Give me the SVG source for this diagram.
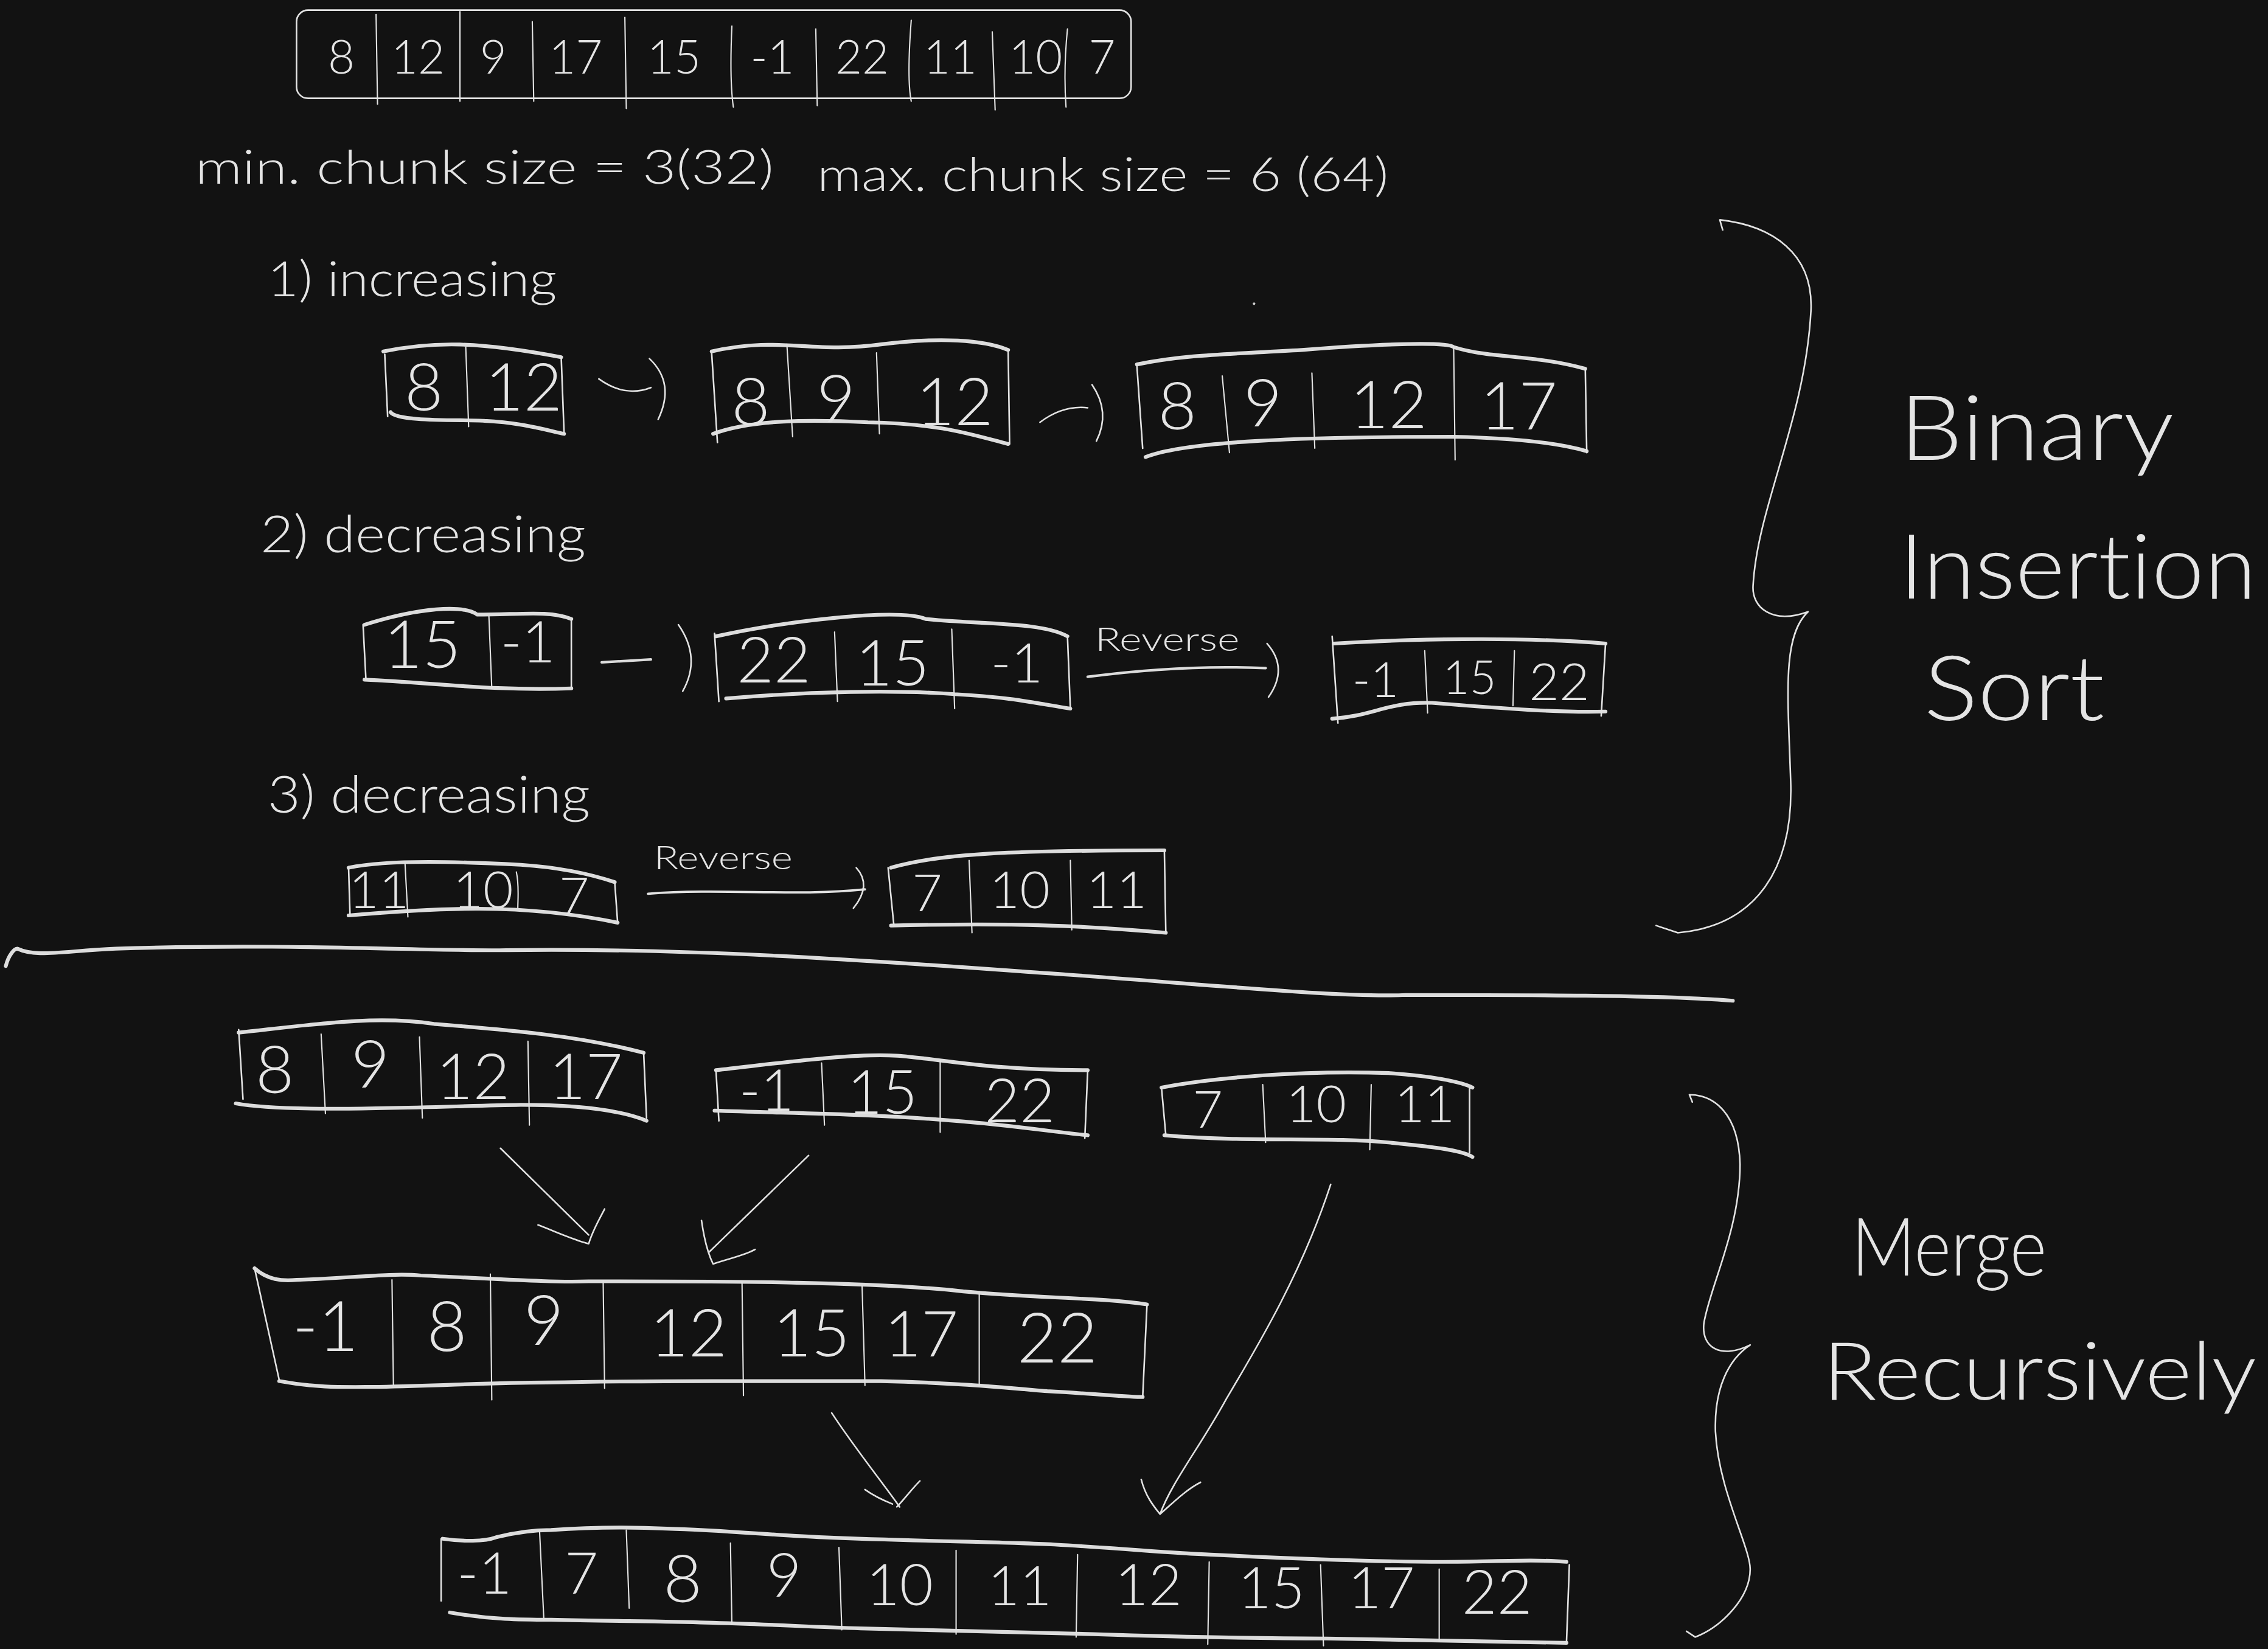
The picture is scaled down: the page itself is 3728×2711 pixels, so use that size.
<svg xmlns="http://www.w3.org/2000/svg" width="3728" height="2711" viewBox="0 0 3728 2711">
<style>
.ln{fill:none;stroke:#e2e2e2;stroke-width:1.1;stroke-linecap:round;stroke-linejoin:round}
.tk{fill:none;stroke:#dcdcdc;stroke-width:2.6;stroke-linecap:round;stroke-linejoin:round}
.dv{fill:none;stroke:#e2e2e2;stroke-width:0.9;stroke-linecap:round}
.t{font-family:"Lato","Liberation Sans",sans-serif;font-weight:300;fill:#e4e4e4;font-variant-ligatures:none}
.n{font-family:"Lato","Liberation Sans",sans-serif;font-weight:300;fill:#e4e4e4;text-anchor:middle}
</style>
<rect x="0" y="0" width="3728" height="2711" fill="#121212"/>
<g transform="scale(2.37755)">

<!-- top input array -->
<g id="input-array">
<rect class="ln" x="205" y="7" width="577" height="61" rx="8"/>
<path class="dv" d="M260,10 L261,72 M318,8 L318,70 M368,15 L369,70 M432,12 L433,75 M506,18 C505,40 505,60 507,74 M564,20 L565,73 M630,14 C628,40 628,60 630,70 M686,22 L688,76 M738,20 C736,40 736,60 737,74"/>
<text class="n" font-size="32" x="236" y="51">8</text>
<text class="n" font-size="32" x="289" y="51">12</text>
<text class="n" font-size="32" x="341" y="51">9</text>
<text class="n" font-size="32" x="398" y="51">17</text>
<text class="n" font-size="32" x="466" y="51">15</text>
<text class="n" font-size="32" x="534" y="51">-1</text>
<text class="n" font-size="32" x="596" y="51">22</text>
<text class="n" font-size="32" x="657" y="51">11</text>
<text class="n" font-size="32" x="716" y="51">10</text>
<text class="n" font-size="32" x="762" y="51">7</text>
</g>

<g id="chunk-size">
<text class="t" font-size="32" x="135" y="127" textLength="400" lengthAdjust="spacingAndGlyphs">min. chunk size = 3(32)</text>
<text class="t" font-size="32" x="565" y="132" textLength="395" lengthAdjust="spacingAndGlyphs">max. chunk size = 6 (64)</text>
</g>
<circle cx="867" cy="210" r="0.9" fill="#ccc"/>

<!-- case 1 -->
<text id="label-increasing" class="t" font-size="34" x="185" y="205" textLength="200" lengthAdjust="spacingAndGlyphs">1) increasing</text>
<g id="inc-a">
<path class="tk" d="M265,243 C300,236 330,236 388,247"/>
<path class="tk" d="M270,285 C275,292 320,290 335,291 C360,292 380,298 390,300"/>
<path class="ln" d="M266,245 L268,288 M388,247 L390,300"/>
<path class="dv" d="M322,240 L324,295"/>
<text class="n" font-size="46" x="293" y="284">8</text>
<text class="n" font-size="46" x="362" y="284">12</text>
</g>
<g id="inc-b">
<path class="tk" d="M492,243 C540,232 560,245 610,238 C650,233 680,235 697,242"/>
<path class="tk" d="M493,300 C520,290 560,290 600,292 C650,293 670,300 697,307"/>
<path class="ln" d="M492,244 L496,306 M697,242 L698,307"/>
<path class="dv" d="M544,238 L548,302 M606,244 L608,300"/>
<text class="n" font-size="46" x="519" y="294">8</text>
<text class="n" font-size="46" x="578" y="292">9</text>
<text class="n" font-size="46" x="660" y="294">12</text>
</g>
<g id="inc-c">
<path class="tk" d="M786,252 C820,245 850,245 900,242 C950,238 1000,236 1005,240 C1030,248 1060,245 1096,255"/>
<path class="tk" d="M792,316 C820,305 900,302 1005,302 C1050,303 1080,307 1097,312"/>
<path class="ln" d="M786,253 L790,310 M1096,255 L1097,313"/>
<path class="dv" d="M845,260 L850,313 M907,258 L909,310 M1005,240 L1006,318"/>
<text class="n" font-size="46" x="814" y="297">8</text>
<text class="n" font-size="46" x="873" y="295">9</text>
<text class="n" font-size="46" x="960" y="296">12</text>
<text class="n" font-size="46" x="1050" y="297">17</text>
</g>

<!-- case 2 -->
<text id="label-decreasing-2" class="t" font-size="36" x="180" y="382" textLength="225" lengthAdjust="spacingAndGlyphs">2) decreasing</text>
<g id="dec-a">
<path class="tk" d="M252,432 C290,420 320,418 330,425 C360,425 380,422 395,428"/>
<path class="tk" d="M252,470 C300,472 340,478 395,476"/>
<path class="ln" d="M251,432 L253,470 M395,428 L395,475"/>
<path class="dv" d="M338,426 L340,476"/>
<text class="n" font-size="46" x="292" y="462">15</text>
<text class="n" font-size="40" x="365" y="458">-1</text>
</g>
<g id="dec-b">
<path class="tk" d="M495,440 C540,430 620,420 640,428 C680,432 720,430 738,440"/>
<path class="tk" d="M502,483 C560,478 620,477 660,480 C700,482 720,487 740,490"/>
<path class="ln" d="M494,438 L497,485 M738,440 L740,490"/>
<path class="dv" d="M577,437 L579,485 M658,435 L660,490"/>
<text class="n" font-size="44" x="535" y="472">22</text>
<text class="n" font-size="44" x="617" y="474">15</text>
<text class="n" font-size="38" x="703" y="472">-1</text>
</g>
<g id="dec-c">
<path class="tk" d="M922,445 C970,442 1050,440 1110,445"/>
<path class="tk" d="M921,497 C950,495 960,485 990,486 C1040,490 1080,493 1110,492"/>
<path class="ln" d="M921,440 L925,500 M1110,445 L1107,495"/>
<path class="dv" d="M985,450 L987,493 M1047,450 L1046,488"/>
<text class="n" font-size="34" x="951" y="482">-1</text>
<text class="n" font-size="32" x="1016" y="480">15</text>
<text class="n" font-size="36" x="1078" y="484">22</text>
</g>

<!-- case 3 -->
<text id="label-decreasing-3" class="t" font-size="36" x="185" y="562" textLength="223" lengthAdjust="spacingAndGlyphs">3) decreasing</text>
<g id="dec3-a">
<path class="tk" d="M241,600 C270,594 320,596 360,598 C390,600 410,605 425,610"/>
<path class="tk" d="M241,633 C300,628 360,624 427,638"/>
<path class="ln" d="M241,600 L242,633 M425,610 L427,638"/>
<path class="dv" d="M280,597 L282,634 M357,603 C359,612 358,622 358,628"/>
<text class="n" font-size="36" x="262" y="628">11</text>
<text class="n" font-size="36" x="334" y="628">10</text>
<text class="n" font-size="36" x="397" y="632">7</text>
</g>
<g id="dec3-b">
<path class="tk" d="M616,600 C650,590 700,588 805,588"/>
<path class="tk" d="M616,640 C700,638 750,640 806,645"/>
<path class="ln" d="M614,600 L618,640 M805,588 L806,645"/>
<path class="dv" d="M670,595 L672,645 M740,595 L741,643"/>
<text class="n" font-size="36" x="641" y="630">7</text>
<text class="n" font-size="36" x="705" y="628">10</text>
<text class="n" font-size="36" x="772" y="628">11</text>
</g>

<!-- brace 1 and label -->
<g id="brace-binary">
<path class="ln" d="M1191,159 L1189,152 C1225,156 1254,175 1252,215 C1248,290 1215,350 1212,405 C1211,420 1225,432 1250,423 C1232,440 1236,480 1238,540 C1240,600 1215,640 1160,645 L1145,640"/>
</g>
<g id="label-binary">
<text class="t" font-size="62" x="1313" y="318" textLength="190" lengthAdjust="spacingAndGlyphs">Binary</text>
<text class="t" font-size="62" x="1313" y="414" textLength="247" lengthAdjust="spacingAndGlyphs">Insertion</text>
<text class="t" font-size="62" x="1330" y="498" textLength="125" lengthAdjust="spacingAndGlyphs">Sort</text>
</g>

<!-- separator -->
<path id="separator" class="tk" d="M4,668 C6,660 10,656 12,656 C25,662 40,658 80,656 C200,652 300,658 350,657 C500,655 650,668 739,674 C850,682 930,690 972,688 C1050,688 1150,688 1198,692"/>

<!-- merge section -->
<g id="run-1">
<path class="tk" d="M165,714 C220,708 260,702 300,708 C350,712 400,716 445,728"/>
<path class="tk" d="M163,763 C200,770 300,765 360,764 C400,764 430,768 447,775"/>
<path class="ln" d="M165,712 L168,760 M445,728 L447,773"/>
<path class="dv" d="M222,715 L225,770 M290,717 L292,773 M365,720 L366,778"/>
<text class="n" font-size="46" x="190" y="756">8</text>
<text class="n" font-size="46" x="256" y="752">9</text>
<text class="n" font-size="44" x="327" y="760">12</text>
<text class="n" font-size="44" x="405" y="760">17</text>
</g>
<g id="run-2">
<path class="tk" d="M495,740 C540,735 590,728 620,730 C650,732 680,740 752,740"/>
<path class="tk" d="M494,768 C550,770 600,770 660,775 C700,778 730,783 752,785"/>
<path class="ln" d="M495,740 L497,775 M752,740 L750,787"/>
<path class="dv" d="M568,735 L570,778 M650,733 L650,783"/>
<text class="n" font-size="40" x="530" y="768">-1</text>
<text class="n" font-size="42" x="610" y="770">15</text>
<text class="n" font-size="42" x="705" y="776">22</text>
</g>
<g id="run-3">
<path class="tk" d="M803,752 C840,745 900,740 960,742 C990,744 1010,748 1018,752"/>
<path class="tk" d="M805,785 C860,790 920,786 960,790 C990,793 1010,795 1018,800"/>
<path class="ln" d="M803,752 L806,785 M1016,752 L1016,797"/>
<path class="dv" d="M873,750 L875,790 M948,750 L947,795"/>
<text class="n" font-size="36" x="835" y="780">7</text>
<text class="n" font-size="36" x="910" y="776">10</text>
<text class="n" font-size="36" x="985" y="776">11</text>
</g>
<g id="merged-7">
<path class="tk" d="M176,877 C185,885 195,886 205,885 C240,884 270,880 291,882 C340,884 380,887 407,886 C470,886 520,886 551,887 C600,888 640,890 666,893 C720,898 760,897 793,902"/>
<path class="tk" d="M193,955 C220,960 240,959 262,959 C310,958 340,956 378,956 C430,955 460,955 493,955 C540,955 580,955 609,955 C660,956 700,960 724,962 C760,964 780,966 790,966"/>
<path class="ln" d="M176,877 L193,954 M793,902 L790,966"/>
<path class="dv" d="M271,885 L272,958 M339,881 L340,968 M417,886 L418,960 M513,887 L514,965 M596,889 L598,958 M677,895 L677,958"/>
<text class="n" font-size="48" x="225" y="934">-1</text>
<text class="n" font-size="48" x="309" y="934">8</text>
<text class="n" font-size="48" x="376" y="930">9</text>
<text class="n" font-size="46" x="476" y="938">12</text>
<text class="n" font-size="46" x="561" y="938">15</text>
<text class="n" font-size="44" x="637" y="938">17</text>
<text class="n" font-size="48" x="731" y="942">22</text>
</g>
<g id="merged-10">
<path class="tk" d="M306,1064 C320,1066 335,1066 343,1063 C355,1060 368,1058 381,1058 C410,1056 440,1056 461,1057 C500,1058 540,1062 569,1063 C640,1066 690,1066 729,1068 C780,1071 810,1074 837,1075 C900,1078 950,1080 998,1080 C1030,1080 1060,1078 1083,1080"/>
<path class="tk" d="M311,1115 C340,1120 360,1120 381,1120 C420,1121 460,1121 488,1122 C530,1123 560,1125 595,1126 C660,1128 710,1129 756,1130 C820,1132 870,1133 917,1133 C980,1134 1040,1135 1083,1136"/>
<path class="ln" d="M305,1064 L305,1107 M1085,1082 L1083,1136"/>
<path class="dv" d="M373,1058 L376,1120 M433,1058 L435,1112 M505,1067 L506,1123 M580,1070 L582,1127 M661,1072 L661,1130 M745,1075 L744,1132 M836,1080 L835,1137 M913,1082 L915,1138 M995,1085 L995,1135"/>
<text class="n" font-size="40" x="335" y="1102">-1</text>
<text class="n" font-size="40" x="402" y="1102">7</text>
<text class="n" font-size="46" x="472" y="1108">8</text>
<text class="n" font-size="42" x="542" y="1104">9</text>
<text class="n" font-size="40" x="622" y="1110">10</text>
<text class="n" font-size="38" x="705" y="1110">11</text>
<text class="n" font-size="40" x="794" y="1110">12</text>
<text class="n" font-size="40" x="879" y="1112">15</text>
<text class="n" font-size="40" x="955" y="1112">17</text>
<text class="n" font-size="42" x="1035" y="1116">22</text>
</g>

<!-- brace 2 and label -->
<g id="brace-merge">
<path class="ln" d="M1170,762 L1168,757 C1185,757 1202,770 1203,805 C1203,850 1182,890 1178,915 C1176,932 1190,940 1210,930 C1195,940 1185,960 1186,990 C1188,1030 1210,1070 1210,1085 C1210,1105 1190,1125 1172,1132 L1166,1128"/>
</g>
<g id="label-merge">
<text class="t" font-size="56" x="1280" y="882" textLength="135" lengthAdjust="spacingAndGlyphs">Merge</text>
<text class="t" font-size="56" x="1260" y="968" textLength="300" lengthAdjust="spacingAndGlyphs">Recursively</text>
</g>

<!-- connectors -->
<g id="connectors">
<path class="ln" d="M414,262 Q432,275 450,268"/>
<path class="ln" d="M449,248 Q467,265 455,290"/>
<path class="ln" d="M719,292 Q735,280 752,282"/>
<path class="ln" d="M755,266 Q768,285 758,305"/>
<path class="tk" d="M416,458 L450,456" style="stroke-width:1.8"/>
<path class="ln" d="M469,432 Q485,455 472,478"/>
<text class="t" font-size="22" x="757" y="450" textLength="100" lengthAdjust="spacingAndGlyphs">Reverse</text>
<path class="tk" d="M752,468 C790,463 830,460 875,462" style="stroke-width:1.8"/>
<path class="ln" d="M876,445 Q891,462 877,482"/>
<text class="t" font-size="22" x="452" y="601" textLength="96" lengthAdjust="spacingAndGlyphs">Reverse</text>
<path class="ln" d="M448,618 C500,614 550,620 598,615" style="stroke-width:1.6"/>
<path class="ln" d="M592,600 Q603,612 590,628"/>
<path class="ln" d="M346,794 L407,854 M372,847 C385,852 398,858 407,860 C410,850 415,842 418,836"/>
<path class="ln" d="M559,799 L490,866 M485,844 C487,858 490,868 493,874 C505,870 515,868 522,864"/>
<path class="ln" d="M920,819 C900,880 870,930 848,967 C830,1000 810,1025 802,1047 M789,1023 C792,1035 798,1042 802,1047 C810,1040 820,1030 830,1025"/>
<path class="ln" d="M575,977 C590,1000 610,1025 622,1042 M598,1030 C605,1035 612,1038 617,1040 M636,1024 C630,1030 625,1037 620,1042"/>
</g>
</g>
</svg>
